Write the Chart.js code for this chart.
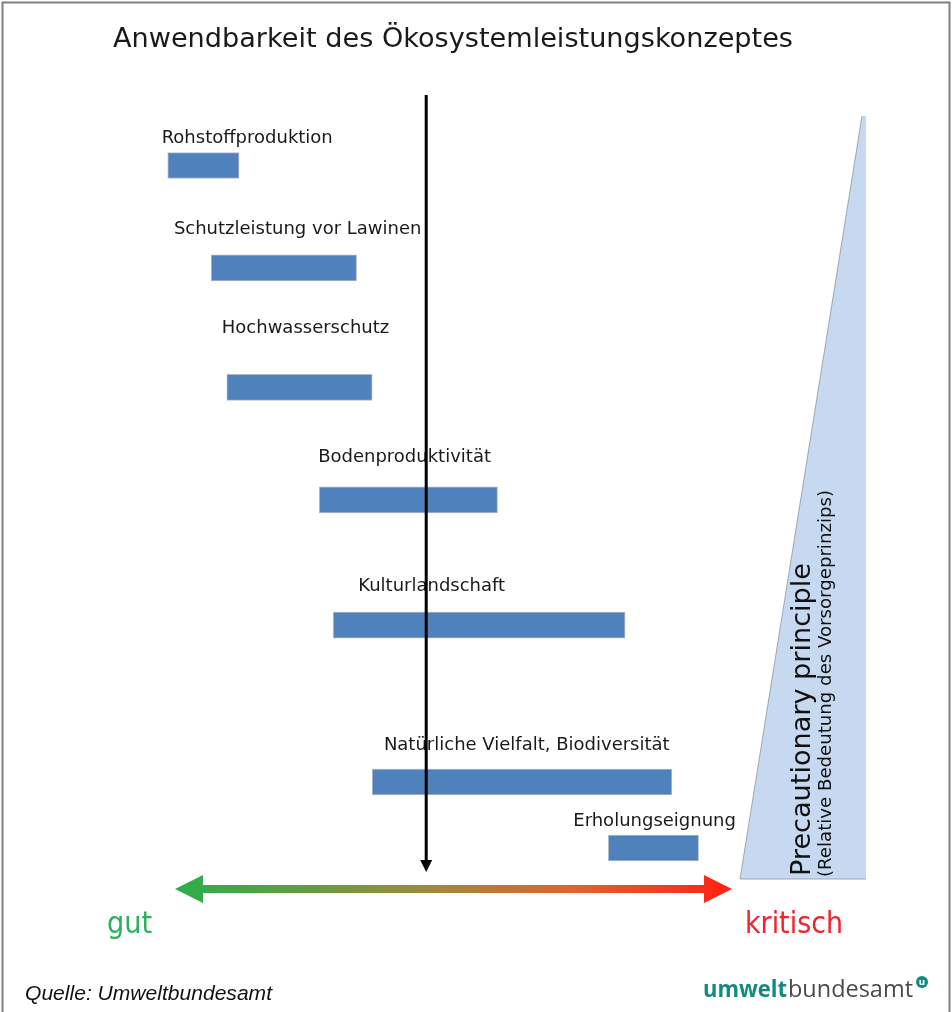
<!DOCTYPE html>
<html lang="de">
<head>
<meta charset="utf-8">
<title>Anwendbarkeit des Ökosystemleistungskonzeptes</title>
<script src="https://cdn.jsdelivr.net/npm/chart.js@4/dist/chart.umd.min.js"></script>
<style>
  html, body { margin: 0; padding: 0; background: #ffffff; }
  canvas { display: block; }
</style>
</head>
<body>
<canvas id="chart" width="952" height="1012"></canvas>
<script>
// ---- data (x: 0 = "gut", 100 = "kritisch") ----
const categories = [
  'Rohstoffproduktion',
  'Schutzleistung vor Lawinen',
  'Hochwasserschutz',
  'Bodenproduktivität',
  'Kulturlandschaft',
  'Natürliche Vielfalt, Biodiversität',
  'Erholungseignung'
];
const rangeStart = [-1.3, 6.5, 9.3, 25.9, 28.4, 35.4, 77.8];
const rangeEnd   = [11.5, 32.6, 35.4, 57.9, 80.8, 89.2, 94.0];
const rowPosition = [1, 1.9, 2.95, 3.94, 5.04, 6.42, 7];
const scaleLabels = ['gut', 'kritisch'];
const dividerValue = 45.1;
const titleText = 'Anwendbarkeit des Ökosystemleistungskonzeptes';
const principleText = ['Precautionary principle', '(Relative Bedeutung des Vorsorgeprinzips)'];
const sourceText = 'Quelle: Umweltbundesamt';
const logoText = ['umwelt', 'bundesamt'];

// ---- label anchors (layout, in scale units) ----
const labelX   = [-2.4, -0.2, 8.4, 25.7, 32.9, 37.5, 71.5];
const labelRow = [0.8, 1.6, 2.47, 3.61, 4.74, 6.14, 6.81];

function fitText(ctx, text, x, y, font, width) {
  ctx.font = font;
  const m = ctx.measureText(text).width;
  ctx.save();
  ctx.translate(x, y);
  ctx.scale(width / m, 1);
  ctx.fillText(text, 0, 0);
  ctx.restore();
}

const decor = {
  id: 'decor',
  beforeDatasetsDraw(chart) {
    const ctx = chart.ctx;
    ctx.save();
    // frame
    ctx.strokeStyle = '#808080';
    ctx.lineWidth = 2;
    ctx.strokeRect(2.5, 2.5, 947, 1030);

    // title
    ctx.fillStyle = '#1a1a1a';
    ctx.textAlign = 'left';
    ctx.textBaseline = 'alphabetic';
    fitText(ctx, titleText, 113, 47, '26px "DejaVu Sans"', 680);

    // precautionary triangle
    ctx.beginPath();
    ctx.moveTo(740, 879);
    ctx.lineTo(862, 116);
    ctx.lineTo(866, 116);
    ctx.lineTo(866, 879);
    ctx.closePath();
    ctx.fillStyle = '#C6D9F0';
    ctx.fill();
    ctx.beginPath();
    ctx.moveTo(866, 879);
    ctx.lineTo(740, 879);
    ctx.lineTo(862, 116);
    ctx.strokeStyle = 'rgba(140,150,165,0.8)';
    ctx.lineWidth = 1;
    ctx.stroke();

    // rotated texts
    ctx.fillStyle = '#111';
    ctx.save();
    ctx.translate(810, 876);
    ctx.rotate(-Math.PI / 2);
    fitText(ctx, principleText[0], 0, 0, '27px "DejaVu Sans"', 313);
    ctx.restore();
    ctx.save();
    ctx.translate(831, 877);
    ctx.rotate(-Math.PI / 2);
    fitText(ctx, principleText[1], 0, 0, '17px "DejaVu Sans"', 387);
    ctx.restore();

    // footer
    ctx.fillStyle = '#111';
    fitText(ctx, sourceText, 25, 1000, 'italic 20px "Liberation Sans"', 247);

    // logo
    ctx.fillStyle = '#138983';
    fitText(ctx, logoText[0], 703, 997, 'bold 23px "Open Sans"', 84);
    ctx.fillStyle = '#4a4a4a';
    fitText(ctx, logoText[1], 788, 997, '23px "Open Sans"', 125);
    ctx.beginPath();
    ctx.arc(922, 982, 6, 0, Math.PI * 2);
    ctx.fillStyle = '#138983';
    ctx.fill();
    ctx.fillStyle = '#ffffff';
    ctx.font = 'bold 9px "DejaVu Sans"';
    ctx.textAlign = 'center';
    ctx.fillText('u', 922, 985);
    ctx.restore();
  },
  afterDatasetsDraw(chart) {
    const ctx = chart.ctx;
    const xs = chart.scales.x, ys = chart.scales.y;
    ctx.save();
    // bar labels
    ctx.fillStyle = '#1a1a1a';
    ctx.font = '18px "DejaVu Sans"';
    ctx.textAlign = 'left';
    ctx.textBaseline = 'alphabetic';
    categories.forEach((c, i) => {
      ctx.fillText(c, xs.getPixelForValue(labelX[i]), ys.getPixelForValue(labelRow[i]));
    });

    // vertical arrow
    const vx = xs.getPixelForValue(dividerValue);
    ctx.strokeStyle = '#000';
    ctx.lineWidth = 3;
    ctx.beginPath();
    ctx.moveTo(vx, 95);
    ctx.lineTo(vx, 862);
    ctx.stroke();
    ctx.fillStyle = '#000';
    ctx.beginPath();
    ctx.moveTo(vx - 6, 860);
    ctx.lineTo(vx + 6, 860);
    ctx.lineTo(vx, 872);
    ctx.closePath();
    ctx.fill();

    // gradient arrow gut -> kritisch
    const x0 = xs.getPixelForValue(0), x1 = xs.getPixelForValue(100);
    const cy = 889, head = 28, hh = 14, sh = 4;
    const g = ctx.createLinearGradient(x0, 0, x1, 0);
    g.addColorStop(0, '#2aae4a');
    g.addColorStop(0.45, '#9c8b3e');
    g.addColorStop(0.72, '#de642c');
    g.addColorStop(1, '#ff2012');
    ctx.fillStyle = g;
    ctx.beginPath();
    ctx.moveTo(x0, cy);
    ctx.lineTo(x0 + head, cy - hh);
    ctx.lineTo(x0 + head, cy - sh);
    ctx.lineTo(x1 - head, cy - sh);
    ctx.lineTo(x1 - head, cy - hh);
    ctx.lineTo(x1, cy);
    ctx.lineTo(x1 - head, cy + hh);
    ctx.lineTo(x1 - head, cy + sh);
    ctx.lineTo(x0 + head, cy + sh);
    ctx.lineTo(x0 + head, cy + hh);
    ctx.closePath();
    ctx.fill();

    // end labels
    ctx.fillStyle = '#2DB05A';
    fitText(ctx, scaleLabels[0], 107, 933, '30px "DejaVu Sans"', 45);
    ctx.fillStyle = '#F4222A';
    fitText(ctx, scaleLabels[1], 745, 933, '30px "DejaVu Sans"', 98);
    ctx.restore();
  }
};

new Chart(document.getElementById('chart'), {
  type: 'bar',
  data: {
    labels: categories,
    datasets: [{
      data: categories.map((c, i) => ({ x: [rangeStart[i], rangeEnd[i]], y: rowPosition[i] })),
      backgroundColor: '#4F81BD',
      borderColor: 'rgba(110,130,160,0.55)',
      borderWidth: 1,
      borderSkipped: false,
      barThickness: 26,
      clip: false
    }]
  },
  options: {
    indexAxis: 'y',
    responsive: false,
    animation: false,
    devicePixelRatio: 1,
    layout: { padding: { left: 119.3, right: 164.3, top: 51.75, bottom: 50.25 } },
    scales: {
      x: { type: 'linear', min: -10, max: 110, display: false, offset: false },
      y: { type: 'linear', min: 0, max: 8, reverse: true, display: false, offset: false }
    },
    plugins: {
      legend: { display: false },
      tooltip: { enabled: false },
      title: { display: false }
    }
  },
  plugins: [decor]
});
</script>
</body>
</html>
